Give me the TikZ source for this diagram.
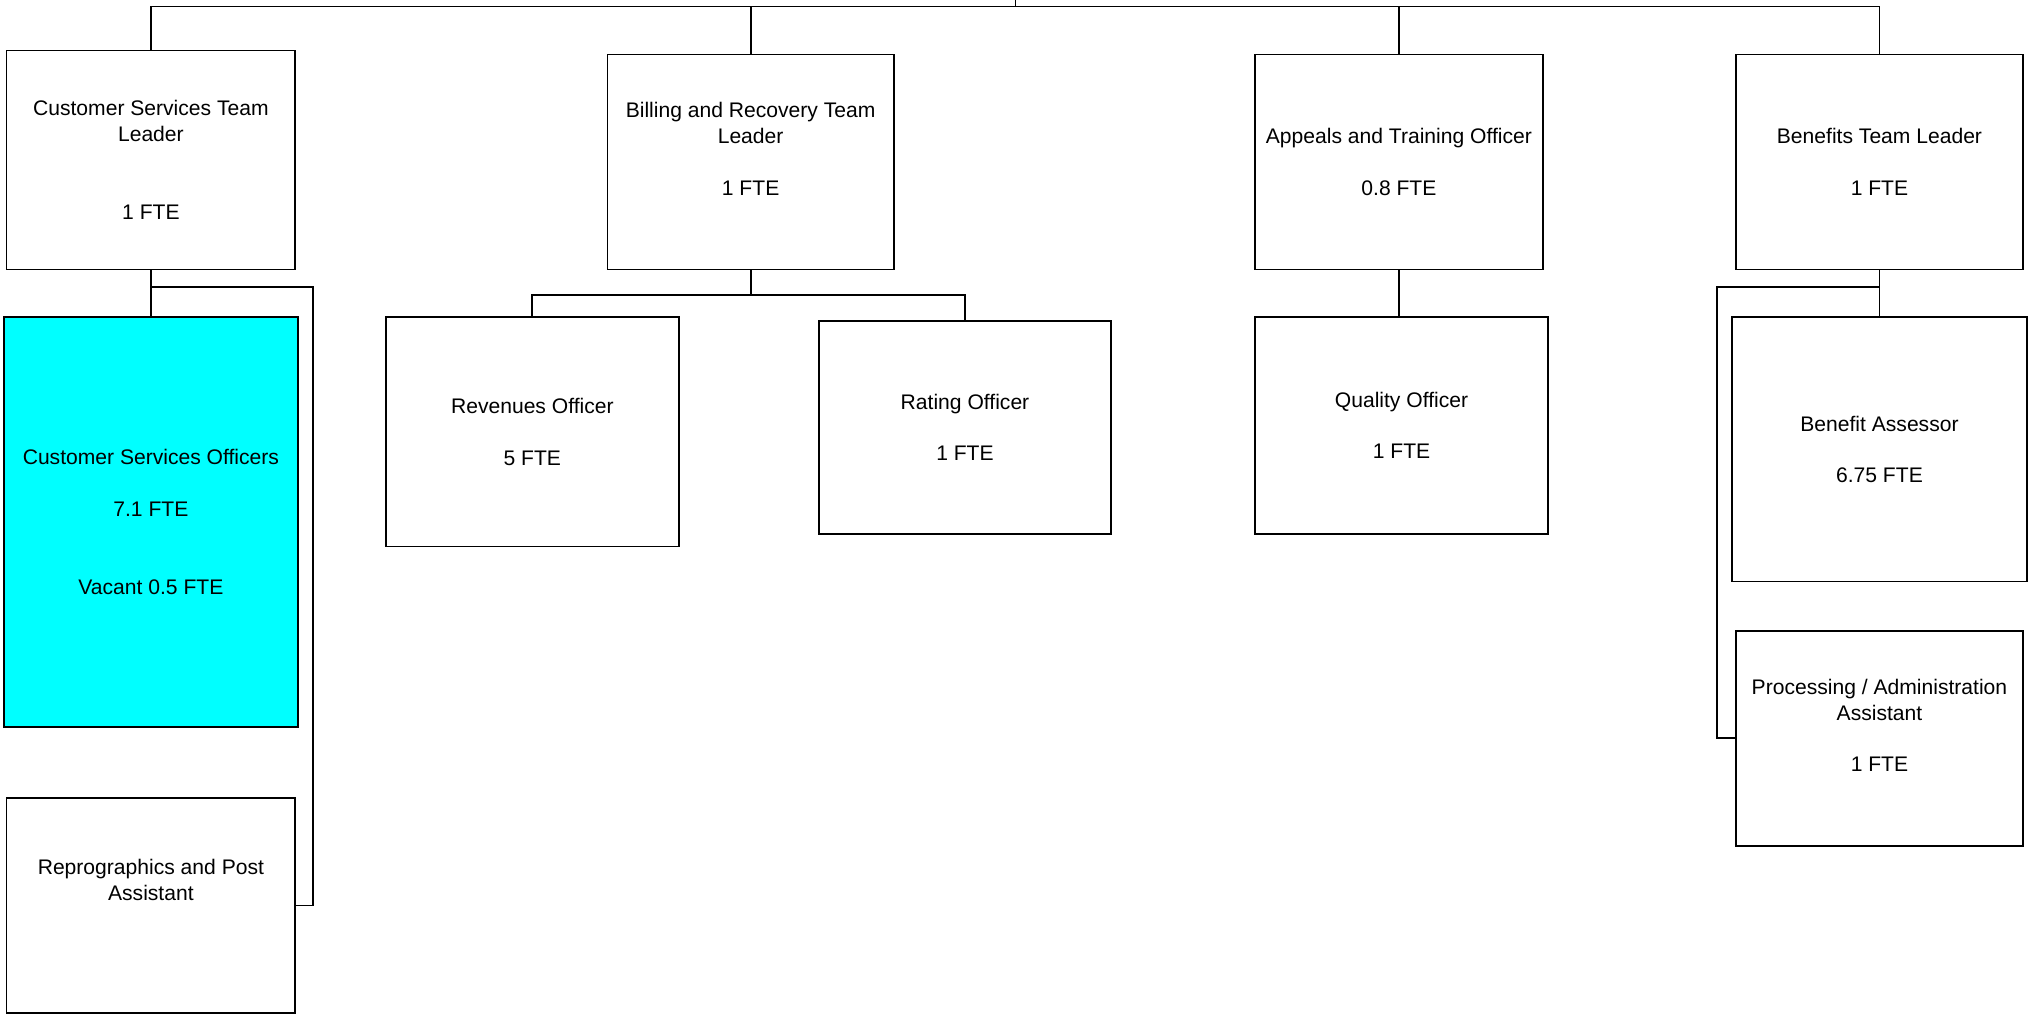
\documentclass[tikz,border=0pt]{standalone}
\usepackage{fontspec}
\setmainfont{Liberation Sans}
\usetikzlibrary{calc}
\newdimen\pxu \pxu=0.012953cm
\definecolor{vacantcyan}{RGB}{0,255,255}
\tikzstyle{pS}=[rectangle,draw,line width=0.5pt,inner sep=0pt,align=center,font=\fontsize{6}{7.35}\selectfont]
\tikzstyle{pV}=[pS,fill=vacantcyan]
\tikzstyle{cS}=[line width=0.5pt]
\begin{document}
\begin{tikzpicture}[x=0.012953cm,y=-0.012953cm]
                \useasboundingbox (0,0) rectangle (1568,783);
                % team leaders
                \draw (116.5,123.5) node[pS,minimum width=223\pxu,minimum height=169\pxu] (cstl) {Customer Services Team\\Leader\\[14.7pt]1 FTE};
                \draw (579.5,125) node[pS,minimum width=221\pxu,minimum height=166\pxu] (bill) {Billing and Recovery Team\\Leader\\[7.35pt]1 FTE\\\mbox{}};
                \draw (1080,125) node[pS,minimum width=222\pxu,minimum height=166\pxu] (app) {Appeals and Training Officer\\[7.35pt]0.8 FTE};
                \draw (1451,125) node[pS,minimum width=222\pxu,minimum height=166\pxu] (btl) {Benefits Team Leader\\[7.35pt]1 FTE};
                % staff
                \draw (116.5,403) node[pV,minimum width=227\pxu,minimum height=316\pxu] (cso) {Customer Services Officers\\[7.35pt]7.1 FTE\\[14.7pt]Vacant 0.5 FTE};
                \draw (116.5,699) node[pS,minimum width=223\pxu,minimum height=166\pxu] (repro) {Reprographics and Post\\Assistant\\\mbox{}\\\mbox{}};
                \draw (411,333.5) node[pS,minimum width=226\pxu,minimum height=177\pxu] (rev) {Revenues Officer\\[7.35pt]5 FTE};
                \draw (745,330) node[pS,minimum width=226\pxu,minimum height=164\pxu] (rat) {Rating Officer\\[7.35pt]1 FTE};
                \draw (1082,328.5) node[pS,minimum width=226\pxu,minimum height=167\pxu] (qual) {Quality Officer\\[7.35pt]1 FTE};
                \draw (1451,347) node[pS,minimum width=228\pxu,minimum height=204\pxu] (ba) {Benefit Assessor\\[7.35pt]6.75 FTE};
                \draw (1451,570) node[pS,minimum width=222\pxu,minimum height=166\pxu] (proc) {Processing / Administration\\Assistant\\[7.35pt]1 FTE\\\mbox{}};
                % connectors
                \coordinate (root) at (784,0);
                \draw[cS] (root) -- ++(0,5) coordinate (bus);
                \draw[cS] (cstl.north) |- (bus) -| (btl.north);
                \draw[cS] (bill.north) -- (bill.north |- bus);
                \draw[cS] (app.north) -- (app.north |- bus);
                \draw[cS] (cstl.south) -- (cso.north);
                \draw[cS] (cstl.south) -- ++(0,13) -| ($(repro.east)+(13,0)$) -- (repro.east);
                \draw[cS] (bill.south) -- ++(0,19) coordinate (bj);
                \draw[cS] (rev.north) |- (bj) -| (rat.north);
                \draw[cS] (app.south) -- (app.south |- qual.north);
                \draw[cS] (btl.south) -- (ba.north);
                \draw[cS] (btl.south) -- ++(0,13) -| ($(proc.west)+(-14,0)$) -- (proc.west);
        \end{tikzpicture}
\end{document}
